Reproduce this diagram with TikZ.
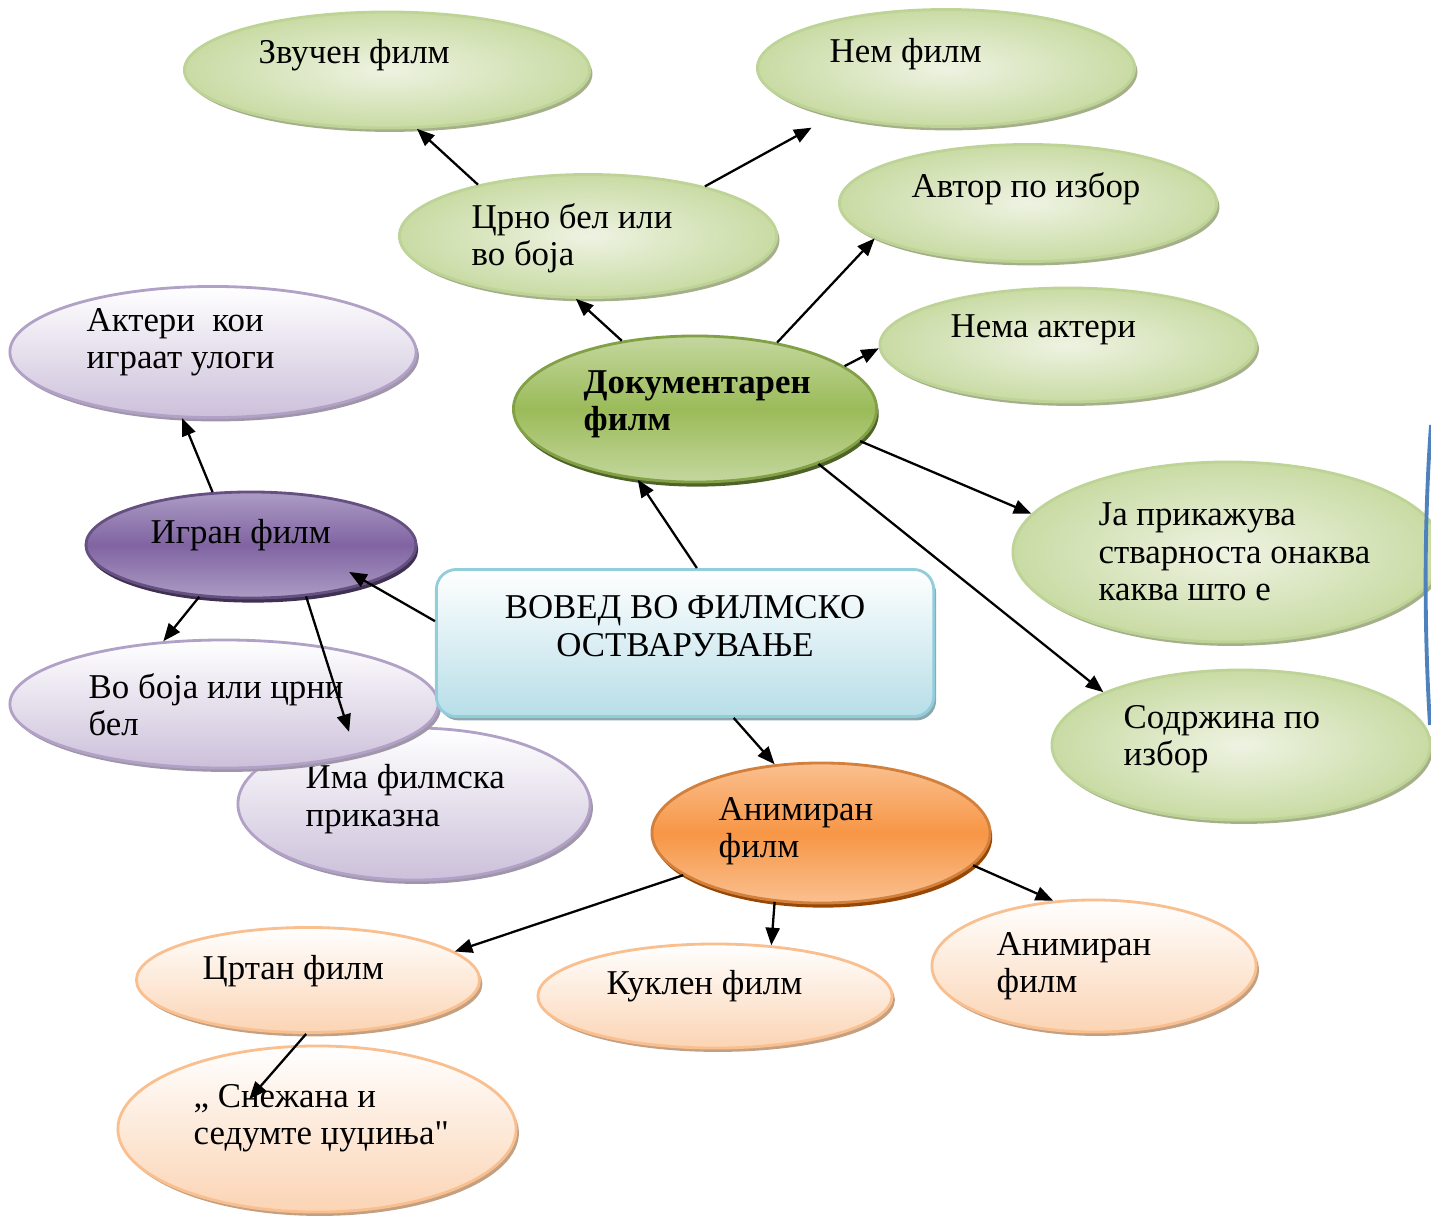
\documentclass[tikz,border=0pt]{standalone}
\usepackage{fontspec}
\setmainfont{Liberation Serif}[Ligatures=TeXOff]
\usetikzlibrary{shapes.geometric,shadows,arrows.meta}

\definecolor{grnline}{RGB}{190,212,150}
\definecolor{grnin}{RGB}{238,243,226}
\definecolor{grnout}{RGB}{201,219,164}
\definecolor{grnshadow}{RGB}{165,176,138}
\definecolor{docmid}{RGB}{155,187,89}
\definecolor{docedge}{RGB}{196,215,158}
\definecolor{docline}{RGB}{130,160,70}
\definecolor{docshadow}{RGB}{79,98,40}
\definecolor{prpline}{RGB}{178,161,199}
\definecolor{prpbot}{RGB}{204,192,218}
\definecolor{prpshadow}{RGB}{160,150,170}
\definecolor{igrmid}{RGB}{128,100,162}
\definecolor{igredge}{RGB}{172,156,196}
\definecolor{igrshadow}{RGB}{63,49,81}
\definecolor{orgline}{RGB}{250,191,143}
\definecolor{orgbot}{RGB}{251,212,180}
\definecolor{orgshadow}{RGB}{195,160,130}
\definecolor{animid}{RGB}{247,150,70}
\definecolor{aniedge}{RGB}{250,192,143}
\definecolor{anishadow}{RGB}{152,72,6}
\definecolor{boxline}{RGB}{146,205,220}
\definecolor{boxbot}{RGB}{183,222,232}
\definecolor{boxshadow}{RGB}{140,168,175}
\definecolor{edgeblue}{RGB}{79,129,189}

\begin{document}
\begin{tikzpicture}[x=0.01cm,y=0.01cm,
	every node/.append style={font=\fontsize{9.9}{10.6}\selectfont},
	txt/.style={align=left,inner sep=0pt,anchor=west},
	leaf/.style={ellipse,inner sep=0pt,line width=0.8pt},
	grnleaf/.style={leaf,draw=grnline,inner color=grnin,outer color=grnout,
		drop shadow={shadow xshift=0.8pt,shadow yshift=-1.1pt,fill=grnshadow,opacity=1}},
	prpleaf/.style={leaf,draw=prpline,top color=white,bottom color=prpbot,
		drop shadow={shadow xshift=0.8pt,shadow yshift=-1.1pt,fill=prpshadow,opacity=1}},
	orgleaf/.style={leaf,draw=orgline,top color=white,bottom color=orgbot,
		drop shadow={shadow xshift=0.8pt,shadow yshift=-1.1pt,fill=orgshadow,opacity=1}},
	link/.style={-{Triangle[length=5pt,width=4pt]},line width=0.65pt}]
	\useasboundingbox (0,0) rectangle (1431,-1215);

	% green branch
	\node[grnleaf,minimum width=4.05cm,minimum height=1.16cm] (zvuchen) at (387,-70) {};
	\node[txt] (zvuchen-t) at (258,-55) {Звучен филм};
	\node[grnleaf,minimum width=3.77cm,minimum height=1.17cm] (nem) at (946,-68) {};
	\node[txt] (nem-t) at (829,-54) {Нем филм};
	\node[grnleaf,minimum width=3.77cm,minimum height=1.23cm] (crno) at (588,-236) {};
	\node[txt] (crno-t) at (471,-238) {Црно бел или\\во боја};
	\node[grnleaf,minimum width=3.77cm,minimum height=1.17cm] (avtor) at (1028,-203) {};
	\node[txt] (avtor-t) at (911,-189) {Автор по избор};
	\node[grnleaf,minimum width=3.76cm,minimum height=1.14cm] (nema) at (1068,-345) {};
	\node[txt] (nema-t) at (950,-330) {Нема актери};
	\node[grnleaf,minimum width=4.30cm,minimum height=1.80cm] (java) at (1228,-552) {};
	\node[txt] (java-t) at (1098,-552) {Ја прикажува\\стварноста онаква\\каква што е};
	\node[grnleaf,minimum width=3.78cm,minimum height=1.50cm] (sodrzhina) at (1241,-745) {};
	\node[txt] (sodrzhina-t) at (1123,-739) {Содржина по\\избор};
	\node[leaf,draw=docline,top color=docedge,bottom color=docedge,middle color=docmid,
		drop shadow={shadow xshift=0.6pt,shadow yshift=-1.3pt,fill=docshadow,opacity=1},
		minimum width=3.63cm,minimum height=1.46cm] (doc) at (695,-409) {};
	\node[txt,font=\fontsize{9.9}{10.6}\selectfont\bfseries] (doc-t) at (583,-404) {Документарен\\филм};

	% purple branch
	\node[prpleaf,minimum width=4.06cm,minimum height=1.31cm] (akteri) at (213,-352) {};
	\node[txt] (akteri-t) at (86,-342) {Актери \ кои\\играат улоги};
	\node[leaf,draw=igrmid!80!black,top color=igredge,bottom color=igredge,middle color=igrmid,
		drop shadow={shadow xshift=0.6pt,shadow yshift=-1.3pt,fill=igrshadow,opacity=1},
		minimum width=3.30cm,minimum height=1.06cm] (igran) at (251,-545) {};
	\node[txt] (igran-t) at (150,-535) {Игран филм};
	\node[prpleaf,minimum width=3.52cm,minimum height=1.52cm] (ima) at (414,-804) {};
	\node[txt] (ima-t) at (305,-799) {Има филмска\\приказна};
	\node[prpleaf,minimum width=4.28cm,minimum height=1.28cm] (boja) at (224,-704) {};
	\node[txt] (boja-t) at (88,-705) {Во боја или црни\\бел};

	% centre
	\node[rectangle,rounded corners=0.2cm,draw=boxline,line width=0.8pt,top color=white,bottom color=boxbot,
		drop shadow={shadow xshift=0.7pt,shadow yshift=-1.1pt,fill=boxshadow,opacity=1},
		minimum width=4.97cm,minimum height=1.47cm] (vovod) at (685,-643) {};
	\node[align=center,inner sep=0pt] (vovod-t) at (685,-626) {ВОВЕД ВО ФИЛМСКО\\ОСТВАРУВАЊЕ};

	% orange branch
	\node[leaf,draw=animid!85!black,top color=aniedge,bottom color=aniedge,middle color=animid,
		drop shadow={shadow xshift=0.6pt,shadow yshift=-1.3pt,fill=anishadow,opacity=1},
		minimum width=3.38cm,minimum height=1.40cm] (animiran) at (821,-833) {};
	\node[txt] (animiran-t) at (718,-831) {Анимиран\\филм};
	\node[orgleaf,minimum width=3.43cm,minimum height=1.05cm] (crtan) at (308,-980) {};
	\node[txt] (crtan-t) at (202,-971) {Цртан филм};
	\node[orgleaf,minimum width=3.54cm,minimum height=1.04cm] (kuklen) at (715,-996) {};
	\node[txt] (kuklen-t) at (606,-986) {Куклен филм};
	\node[orgleaf,minimum width=3.24cm,minimum height=1.32cm] (animiran2) at (1094,-966) {};
	\node[txt] (animiran2-t) at (996,-966) {Анимиран\\филм};
	\node[orgleaf,minimum width=3.98cm,minimum height=1.66cm] (snezhana) at (317,-1129) {};
	\node[txt] (snezhana-t) at (193,-1118) {„ Снежана и\\седумте џуџиња"};

	% edge of the frame on the right
	\draw[edgeblue,line width=1.1pt] (1431,-425) .. controls (1424,-520) and (1424,-630) .. (1430,-725);

	% arrows
	\draw[link] (crno.155) -- (zvuchen.-63);
	\draw[link,shorten >=0.24cm] (crno.23) -- (nem.-157);
	\draw[link] (doc.137) -- (crno.-101);
	\draw[link] (doc.39) -- (avtor.-167);
	\draw[link] (doc.16) -- (nema.181);
	\draw[link] (doc.-11) -- (java.169);
	\draw[link] (doc.-24) -- (sodrzhina.159);
	\draw[link] (vovod.81) -- (doc.-129);
	\draw[link,shorten >=-0.23cm] (vovod.175) -- (igran.-18);
	\draw[link] (igran.126) -- (akteri.-115);
	\draw[link] (igran.-135) -- (boja.134);
	\draw[link] (igran.-43) -- (ima.132);
	\draw[link] (vovod.-57) -- (animiran.124);
	\draw[link] (animiran.-163) -- (crtan.11);
	\draw[link] (animiran.-124) -- (kuklen.42);
	\draw[link] (animiran.-12) -- (animiran2.122);
	\draw[link,shorten >=1.17cm] (crtan.-92) -- (snezhana.-158);
\end{tikzpicture}
\end{document}
